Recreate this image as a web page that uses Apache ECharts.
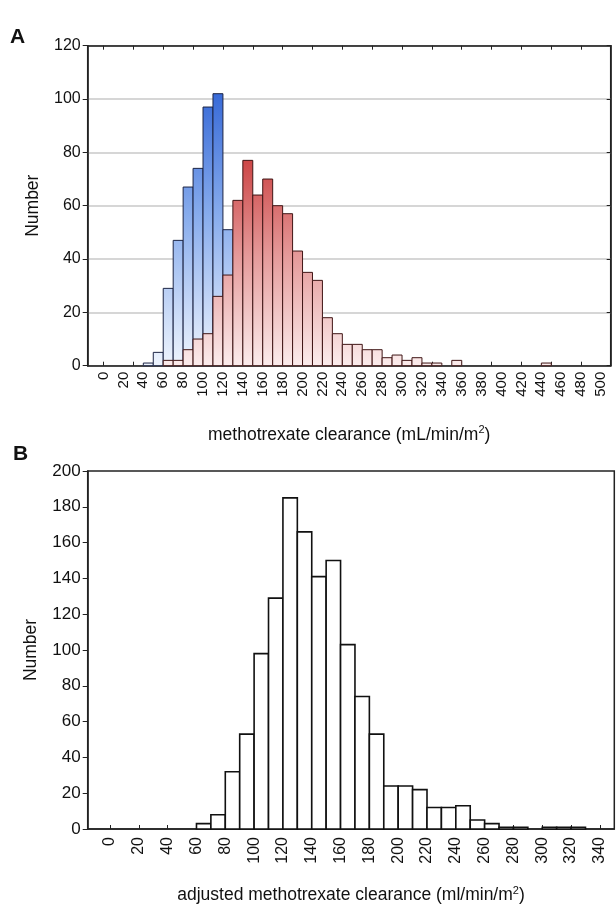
<!DOCTYPE html>
<html>
<head>
<meta charset="utf-8">
<script src="https://cdn.jsdelivr.net/npm/echarts@6/dist/echarts.min.js"></script>
<style>
html,body{margin:0;padding:0;background:#fff;}
#c{width:616px;height:905px;}
</style>
</head>
<body>
<div id="c"></div>
<script>
// ---------- data ----------
const binWidth = 10;
// Panel A: overlapping histograms (counts per 10-unit bin)
const blueStartA = 40;
const blueCountsA = [1, 5, 29, 47, 67, 74, 97, 102, 51];
const redStartA = 60;
const redCountsA = [2, 2, 6, 10, 12, 26, 34, 62, 77, 64, 70, 60, 57, 43, 35, 32, 18, 12, 8, 8, 6, 6, 3, 4, 2, 3, 1, 1, 0, 2, 0, 0, 0, 0, 0, 0, 0, 0, 1];
const xLabelsA = [0,20,40,60,80,100,120,140,160,180,200,220,240,260,280,300,320,340,360,380,400,420,440,460,480,500];
const xTicksA = [0,30,60,90,120,150,180,210,240,270,300,330,360,390,420,450,480];
// Panel B: adjusted clearance histogram
const startB = 60;
const countsB = [3, 8, 32, 53, 98, 129, 185, 166, 141, 150, 103, 74, 53, 24, 24, 22, 12, 12, 13, 5, 3, 1, 1, 0, 1, 1, 1];
const xLabelsB = [0,20,40,60,80,100,120,140,160,180,200,220,240,260,280,300,320,340];

function toPairs(start, counts) {
  return counts.map((c, i) => [start + i * binWidth, c]);
}

const FONT = '"Liberation Sans", Arial, sans-serif';
const chart = echarts.init(document.getElementById('c'), null, {renderer: 'canvas'});

function barRenderer(fillFn, stroke, lw) {
  return function (params, api) {
    const x0 = api.value(0), v = api.value(1);
    if (!v) return null;
    const p0 = api.coord([x0, v]);
    const p1 = api.coord([x0 + binWidth, 0]);
    return {
      type: 'rect',
      shape: {x: p0[0], y: p0[1], width: p1[0] - p0[0], height: p1[1] - p0[1]},
      style: {fill: fillFn(api), stroke: stroke, lineWidth: lw}
    };
  };
}

function gradFill(topVal, stops) {
  return function (api) {
    const yTop = api.coord([0, topVal])[1];
    const yBot = api.coord([0, 0])[1];
    return new echarts.graphic.LinearGradient(0, yTop, 0, yBot, stops, true);
  };
}

const blueStops = [
  {offset: 0, color: '#3366d6'},
  {offset: 0.45, color: '#85aaec'},
  {offset: 1, color: '#eef4fd'}
];
const redStops = [
  {offset: 0, color: '#c93b3b'},
  {offset: 0.5, color: '#e59a9a'},
  {offset: 1, color: '#fbecec'}
];

const labelStyle = {color: '#111', fontFamily: FONT};
const supRich = {sup: {fontSize: 11, fontFamily: FONT, color: '#111', verticalAlign: 'top', padding: [0, 0, 9, 0]}};

const option = {
  animation: false,
  backgroundColor: '#fff',
  grid: [
    {left: 87.7, top: 45.7, width: 523, height: 320, show: true, borderColor: '#222', borderWidth: 1.5, backgroundColor: 'transparent'},
    {left: 87.7, top: 471, width: 526.6, height: 365.7, show: true, borderColor: '#222', borderWidth: 1.5, backgroundColor: 'transparent'}
  ],
  graphic: [
    {type: 'text', left: 10, top: 27, style: {text: 'A', font: 'bold 21px ' + FONT, fill: '#111'}},
    {type: 'text', left: 13, top: 444, style: {text: 'B', font: 'bold 21px ' + FONT, fill: '#111'}}
  ],
  xAxis: [
    {
      gridIndex: 0, type: 'value', position: 'bottom', min: -15.9, max: 509.7,
      axisLine: {show: true, onZero: false, lineStyle: {color: '#222', width: 1.5}},
      axisTick: {show: true, inside: true, length: 4, customValues: xTicksA, lineStyle: {color: '#222'}},
      axisLabel: Object.assign({rotate: 90, fontSize: 15, margin: 6, customValues: xLabelsA}, labelStyle),
      splitLine: {show: false},
      name: 'methotrexate clearance (mL/min/m{sup|2})',
      nameLocation: 'middle', nameGap: 59,
      nameTextStyle: {fontSize: 17.5, color: '#111', fontFamily: FONT, rich: supRich}
    },
    {
      gridIndex: 0, type: 'value', position: 'top', min: -15.9, max: 509.7,
      axisLine: {show: true, onZero: false, lineStyle: {color: '#222', width: 1.5}},
      axisTick: {show: true, inside: true, length: 4, customValues: xTicksA, lineStyle: {color: '#222'}},
      axisLabel: {show: false},
      splitLine: {show: false}
    },
    {
      gridIndex: 1, type: 'value', position: 'bottom', min: -15.5, max: 350,
      axisLine: {show: true, onZero: false, lineStyle: {color: '#222', width: 1.5}},
      axisTick: {show: true, inside: true, length: 4, customValues: xLabelsB, lineStyle: {color: '#222'}},
      axisLabel: Object.assign({rotate: 90, fontSize: 16, margin: 8, customValues: xLabelsB}, labelStyle),
      splitLine: {show: false},
      name: 'adjusted methotrexate clearance (ml/min/m{sup|2})',
      nameLocation: 'middle', nameGap: 56,
      nameTextStyle: {fontSize: 17.5, color: '#111', fontFamily: FONT, rich: supRich}
    }
  ],
  yAxis: [
    {
      gridIndex: 0, type: 'value', min: 0, max: 120, interval: 20, position: 'left',
      axisLine: {show: true, onZero: false, lineStyle: {color: '#222', width: 1.5}},
      axisTick: {show: true, inside: false, length: 5, lineStyle: {color: '#222'}},
      axisLabel: Object.assign({fontSize: 16, margin: 7}, labelStyle),
      splitLine: {show: true, lineStyle: {color: '#c8c8c8', width: 1.5}},
      name: 'Number', nameLocation: 'middle', nameGap: 46,
      nameTextStyle: {fontSize: 17.5, color: '#111', fontFamily: FONT}
    },
    {
      gridIndex: 0, type: 'value', min: 0, max: 120, interval: 20, position: 'right',
      axisLine: {show: true, onZero: false, lineStyle: {color: '#222', width: 1.5}},
      axisTick: {show: true, inside: true, length: 4, lineStyle: {color: '#222'}},
      axisLabel: {show: false},
      splitLine: {show: false}
    },
    {
      gridIndex: 1, type: 'value', min: 0, max: 200, interval: 20, position: 'left',
      axisLine: {show: true, onZero: false, lineStyle: {color: '#222', width: 1.5}},
      axisTick: {show: true, inside: false, length: 5, lineStyle: {color: '#222'}},
      axisLabel: Object.assign({fontSize: 17, margin: 7}, labelStyle),
      splitLine: {show: false},
      name: 'Number', nameLocation: 'middle', nameGap: 48,
      nameTextStyle: {fontSize: 17.5, color: '#111', fontFamily: FONT}
    }
  ],
  series: [
    {
      type: 'custom', name: 'blue', xAxisIndex: 0, yAxisIndex: 0,
      data: toPairs(blueStartA, blueCountsA),
      renderItem: barRenderer(gradFill(105, blueStops), '#1c2444', 1),
      z: 2
    },
    {
      type: 'custom', name: 'red', xAxisIndex: 0, yAxisIndex: 0,
      data: toPairs(redStartA, redCountsA),
      renderItem: barRenderer(gradFill(82, redStops), '#3f1515', 1),
      z: 3
    },
    {
      type: 'custom', name: 'adjusted', xAxisIndex: 2, yAxisIndex: 2,
      data: toPairs(startB, countsB),
      renderItem: barRenderer(function () { return '#ffffff'; }, '#111', 1.6),
      z: 2
    }
  ]
};
chart.setOption(option);
</script>
</body>
</html>
